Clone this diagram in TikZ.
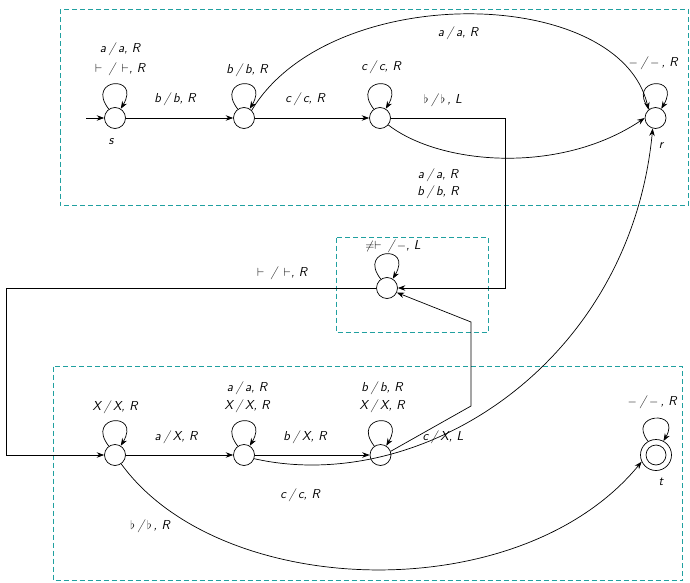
\documentclass[tikz,border=0pt]{standalone}
\usepackage{fontspec}
\usetikzlibrary{arrows.meta}
\definecolor{frameteal}{RGB}{32,160,160}
\tikzset{
  st/.style={circle, draw, minimum size=21pt, inner sep=0pt, line width=0.7pt},
  acc/.style={circle, draw, minimum size=31pt, inner sep=0pt, line width=0.7pt},
  lbl/.style={font=\fontsize{13}{15}\sffamily\slshape, inner sep=0pt},
  tr/.style={line width=0.7pt, -{Stealth[length=7.5pt,width=5.5pt,inset=2.5pt]}},
  frame/.style={draw=frameteal, line width=0.8pt, dash pattern=on 5pt off 3pt}
}
\newcommand\sep{\:/\:}
\begin{document}
\begin{tikzpicture}[x=1pt,y=-1pt]
\useasboundingbox (0,0) rectangle (690,583);

% frames
\draw[frame] (60,9.5) rectangle (688.5,205.5);
\draw[frame] (336,237.5) rectangle (488.5,332);
\draw[frame] (53.5,366.5) rectangle (682.5,580.5);

% states
\node[st] (s)  at (115,118) {};
\node[st] (q2) at (244,118) {};
\node[st] (q3) at (380,118) {};
\node[st] (r)  at (655.5,118) {};
\node[st] (m)  at (387,288) {};
\node[st] (b1) at (115,455) {};
\node[st] (b2) at (244,455) {};
\node[st] (b3) at (380.5,455) {};
\node[acc] (t) at (656,455) {};
\draw[line width=0.7pt] (t.center) circle (10pt);

% state names
\node[lbl] (sname) at (111,142) {s};
\node[lbl] (rname) at (661,146) {r};
\node[lbl] (tname) at (661,482) {t};

% start arrow
\coordinate (start) at (86,118);
\draw[tr] (start) -- (s);

% self loops (y axis points down, so upward handles have negative y)
\foreach \q in {s,q2,q3,r,m,b1,b2,b3}
  \draw[tr] (\q.125) .. controls +(-24,-31) and +(21,-35) .. (\q.58);
\draw[tr] (t.120) .. controls +(-22,-28) and +(19,-32) .. (t.62);

% straight transitions
\draw[tr] (s) -- (q2);
\draw[tr] (q2) -- (q3);
\draw[tr] (b1) -- (b2);
\draw[tr] (b2) -- (b3);

% curved transitions
\draw[tr] (q2.45) .. controls (330,-20) and (620,-15) .. (r.130);
\draw[tr] (q3.-40) .. controls (440,165) and (560,175) .. (r.west);
\draw[tr] (b2.-20) .. controls (420,496) and (630,365) .. (r.-105);
\draw[tr] (b1.-55) .. controls (220,600) and (520,610) .. (t.-155);

% routed transitions
\coordinate (c1) at (505,118);
\coordinate (c2) at (505,288);
\draw[tr] (q3.east) -- (c1) -- (c2) -- (m.east);
\coordinate (c3) at (6,288);
\coordinate (c4) at (6,455);
\draw[tr] (m.west) -- (c3) -- (c4) -- (b1.west);
\coordinate (c5) at (471,406);
\coordinate (c6) at (471,322);
\draw[tr] (b3.20) -- (c5) -- (c6) -- (m.-25);

% loop labels
\node[lbl] (ls1) at (120,49) {a\sep a, R};
\node[lbl] (ls2) at (120,69) {$\vdash$\enspace/\enspace$\vdash$, R};
\node[lbl] (lq2) at (247,70) {b\sep b, R};
\node[lbl] (lq3) at (381,67) {c\sep c, R};
\node[lbl] (lr)  at (653,63) {$-$\sep$-$\,, R};
\node[lbl] (lm)  at (393,246) {$\neq\vdash$\enspace/\,$-$, L};
\node[lbl] (lb1) at (115,407) {X\sep X, R};
\node[lbl] (lb2a) at (247,388) {a\sep a, R};
\node[lbl] (lb2b) at (247,406) {X\sep X, R};
\node[lbl] (lb3a) at (382,388) {b\sep b, R};
\node[lbl] (lb3b) at (382,406) {X\sep X, R};
\node[lbl] (lt)  at (652,402) {$-$\sep$-$\,, R};

% edge labels
\node[lbl] (e1) at (175,99) {b\sep b, R};
\node[lbl] (e2) at (305,99) {c\sep c, R};
\node[lbl] (e3) at (443,100) {$\flat$\sep$\flat$\,, L};
\node[lbl] (e4) at (458,33) {a\sep a, R};
\node[lbl] (e5) at (438,175) {a\sep a, R};
\node[lbl] (e6) at (438,192) {b\sep b, R};
\node[lbl] (e7) at (282,273) {$\vdash$\enspace/\enspace$\vdash$, R};
\node[lbl] (e8) at (176,437) {a\sep X, R};
\node[lbl] (e9) at (305,437) {b\sep X, R};
\node[lbl] (e10) at (443,437) {c\sep X, L};
\node[lbl] (e11) at (300,495) {c\sep c, R};
\node[lbl] (e12) at (150,526) {$\flat$\sep$\flat$\,, R};
\end{tikzpicture}
\end{document}
